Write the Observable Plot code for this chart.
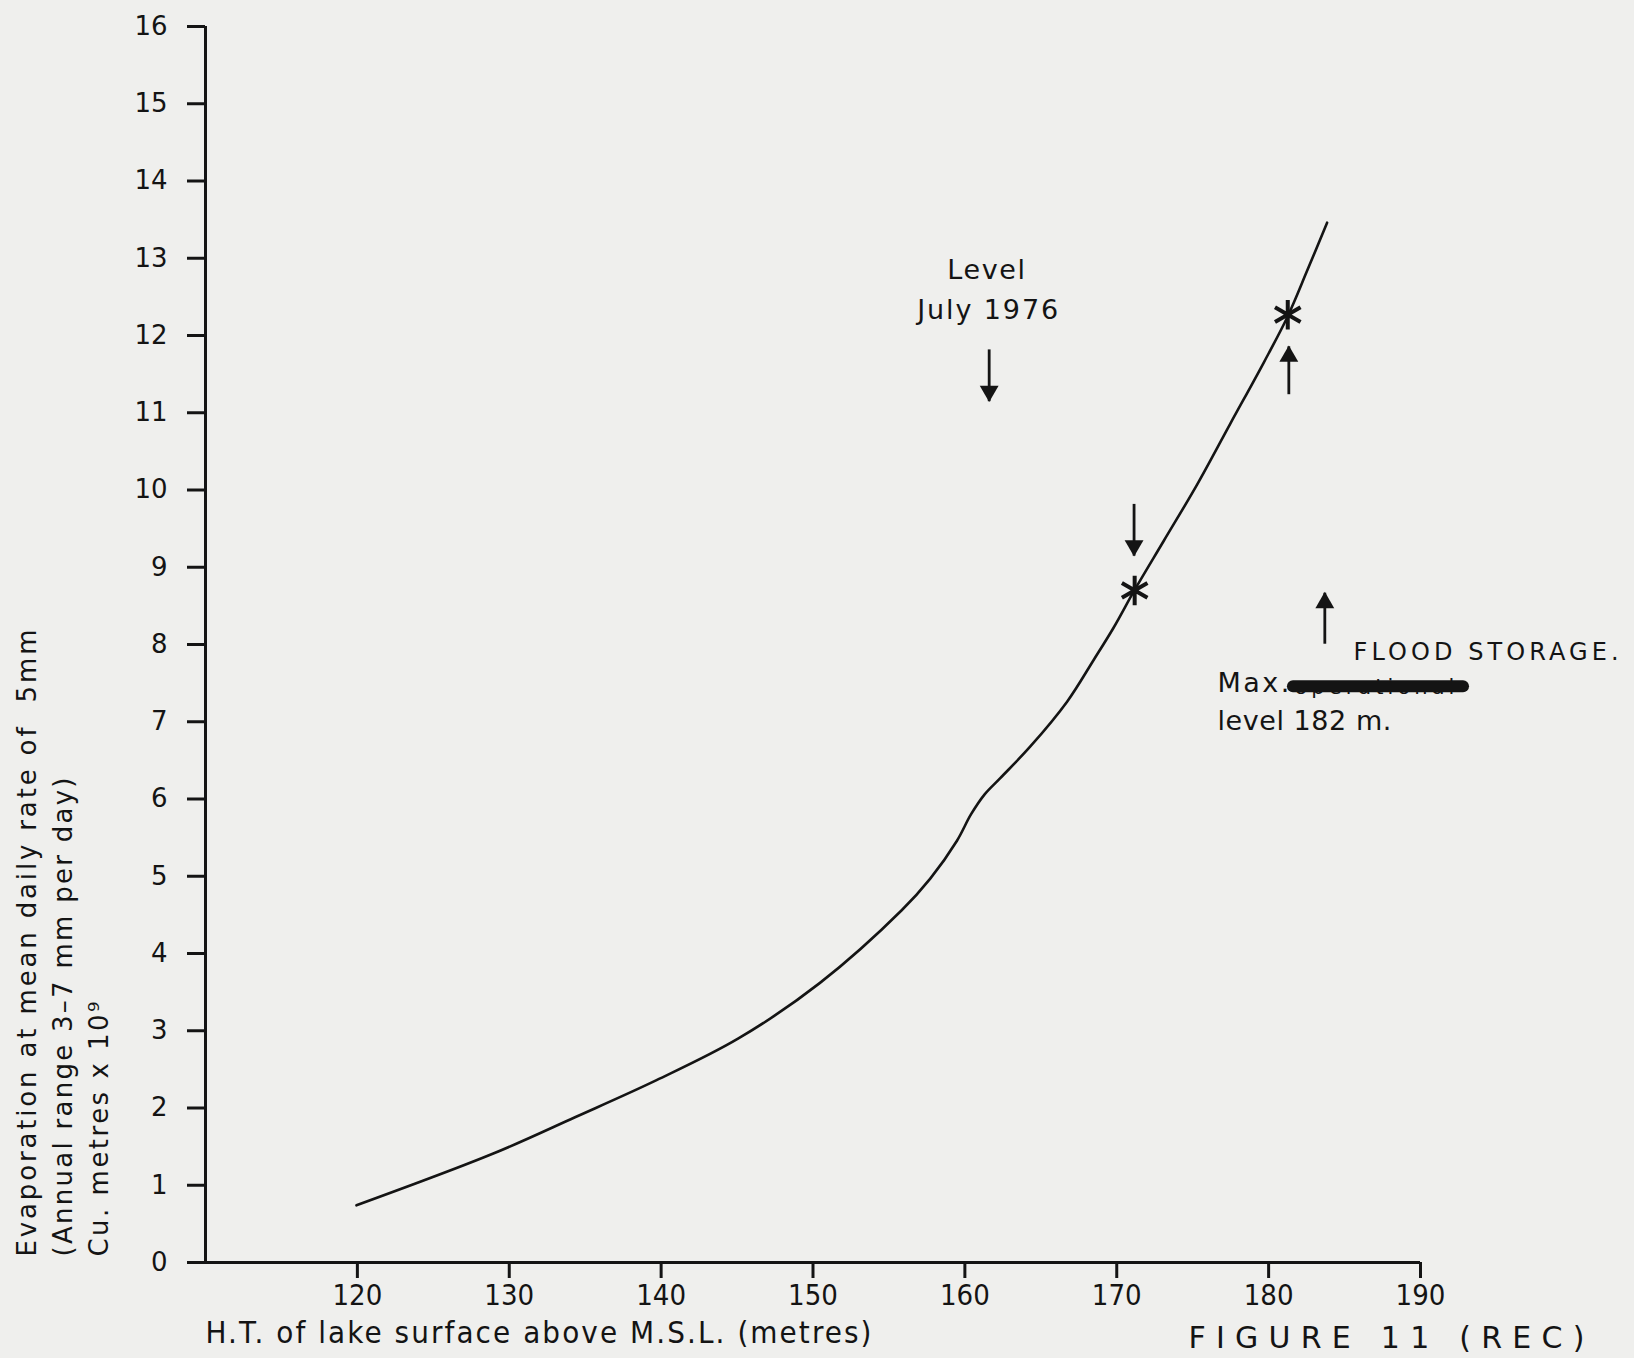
<!DOCTYPE html>
<html><head><meta charset="utf-8">
<script src="https://cdn.jsdelivr.net/npm/d3@7"></script>
<script src="https://cdn.jsdelivr.net/npm/@observablehq/plot@0.6"></script>
<style>
html,body{margin:0;padding:0;background:#efefed;}
#chart svg{display:block;}
g[aria-label="y-axis tick label"] text{font-family:'DejaVu Sans',sans-serif;font-size:26px;}
g[aria-label="x-axis tick label"] text{font-family:'Liberation Sans Narrow','DejaVu Sans Condensed',sans-serif;font-size:29px;}
</style></head><body><div id="chart"></div>
<script>
// Curve: height of lake surface (m) vs evaporation (cu. metres x 10^9)
const levelM = [119.94, 128.95, 134.33, 139.70, 145.09, 150.46, 155.84, 157.72, 159.48, 160.4, 161.3, 162.33, 164.31, 166.73, 168.48, 169.80, 171.16, 173.09, 175.29, 177.48, 179.68, 181.26, 182.54, 183.85];
const evap   = [0.74, 1.41, 1.88, 2.36, 2.90, 3.62, 4.56, 4.97, 5.46, 5.80, 6.06, 6.27, 6.68, 7.26, 7.80, 8.22, 8.70, 9.34, 10.07, 10.86, 11.65, 12.25, 12.84, 13.46];

// Asterisk markers
const starX = [171.18, 181.26];
const starY = [8.70, 12.27];

// Arrows (tail -> head)
const arrowX     = [161.60, 171.14, 181.33, 183.70];
const arrowTailY = [11.82, 9.82, 11.24, 8.01];
const arrowHeadY = [11.15, 9.15, 11.86, 8.67];

// Axis ticks
const xTicks = [120, 130, 140, 150, 160, 170, 180, 190];
const yTicks = [0,1,2,3,4,5,6,7,8,9,10,11,12,13,14,15,16];
const xAxisStart = 108.9;

// Typed annotations
const noteText = ["Level", "July 1976", "Max.", "level 182 m."];
const noteX    = [161.4, 161.5, 176.63, 176.63];
const noteY    = [12.84, 12.33, 7.50, 7.00];
const noteAnchor = ["middle", "middle", "start", "start"];

// Struck-out word and its scribble
const struckText = ["operational"];
const struckX = [181.7];
const struckY = [7.44];
const strikeX = [181.6, 192.8];
const strikeY = [7.46, 7.46];

// Handwritten annotations
const handText = ["FLOOD STORAGE.", "FIGURE 11 (REC)"];
const handX = [185.59, 174.72];
const handY = [7.90, -0.98];
const handSize = [24, 30];

// Axis titles
const yTitle = ["Evaporation at mean daily rate of  5mm", "(Annual range 3–7 mm per day)", "Cu. metres x 10⁹"];
const xTitle = "H.T. of lake surface above M.S.L. (metres)";

const curve = levelM.map((x, i) => ({x, y: evap[i]}));
const stars = starX.map((x, i) => ({x, y: starY[i]}));
const arrows = arrowX.map((x, i) => ({x, y1: arrowTailY[i], y2: arrowHeadY[i], down: arrowHeadY[i] < arrowTailY[i]}));
const notes = noteText.map((t, i) => ({t, x: noteX[i], y: noteY[i], a: noteAnchor[i]}));
const struck = struckText.map((t, i) => ({t, x: struckX[i], y: struckY[i]}));
const strike = strikeX.map((x, i) => ({x, y: strikeY[i]}));
const hand = handText.map((t, i) => ({t, x: handX[i], y: handY[i], s: handSize[i]}));
const ink = "#141414";
const sans = "'DejaVu Sans', sans-serif";

const plot = Plot.plot({
  width: 1634, height: 1358,
  marginLeft: 205, marginRight: 214, marginTop: 26, marginBottom: 96,
  x: {domain: [110, 190]},
  y: {domain: [0, 16]},
  style: {background: "#efefed", color: ink, fontFamily: sans, overflow: "visible"},
  marks: [
    Plot.axisY({ticks: yTicks, tickSize: 18, tickPadding: 20, strokeWidth: 3, tickFormat: d => String(d), label: null}),
    Plot.axisX({ticks: xTicks, tickSize: 16, tickPadding: 6, strokeWidth: 3, tickFormat: d => String(d), label: null}),
    Plot.ruleX([{x: 110, y1: 0, y2: 16}], {x: "x", y1: "y1", y2: "y2", stroke: ink, strokeWidth: 3}),
    Plot.ruleY([{y: 0, x1: xAxisStart, x2: 190}], {y: "y", x1: "x1", x2: "x2", stroke: ink, strokeWidth: 3, clip: false}),
    Plot.line(curve, {x: "x", y: "y", stroke: ink, strokeWidth: 2.6, curve: "catmull-rom"}),
    Plot.dot(stars, {x: "x", y: "y", symbol: "asterisk", r: 14, stroke: ink, strokeWidth: 4}),
    Plot.link(arrows, {x1: "x", x2: "x", y1: "y1", y2: "y2", stroke: ink, strokeWidth: 2.8}),
    Plot.dot(arrows.filter(d => d.down), {x: "x", y: "y2", symbol: "triangle", r: 7, rotate: 180, fill: ink, stroke: "none", dy: -10}),
    Plot.dot(arrows.filter(d => !d.down), {x: "x", y: "y2", symbol: "triangle", r: 7, fill: ink, stroke: "none", dy: 10}),
    Plot.text(notes, {x: "x", y: "y", text: "t", textAnchor: "start", filter: d => d.a === "start", fontSize: 27, fill: ink}),
    Plot.text(notes, {x: "x", y: "y", text: "t", textAnchor: "middle", filter: d => d.a === "middle", fontSize: 27, fill: ink}),
    Plot.text(struck, {x: "x", y: "y", text: "t", textAnchor: "start", fontSize: 21, fill: ink, clip: false}),
    Plot.line(strike, {x: "x", y: "y", stroke: ink, strokeWidth: 12, clip: false}),
    Plot.text(hand, {x: "x", y: "y", text: "t", textAnchor: "start", fontSize: "s", fontFamily: "'DejaVu Sans', sans-serif", fill: ink, clip: false}),
    Plot.text([yTitle[0]], {frameAnchor: "bottom-left", rotate: -90, textAnchor: "start", dx: -170, dy: -6, fontSize: 26, fill: ink}),
    Plot.text([yTitle[1]], {frameAnchor: "bottom-left", rotate: -90, textAnchor: "start", dx: -134, dy: -6, fontSize: 26, fill: ink}),
    Plot.text([yTitle[2]], {frameAnchor: "bottom-left", rotate: -90, textAnchor: "start", dx: -98, dy: -6, fontSize: 26, fill: ink}),
    Plot.text([xTitle], {frameAnchor: "bottom-left", textAnchor: "start", dx: 0, dy: 80, fontSize: 31, fontFamily: "'Liberation Sans Narrow','DejaVu Sans Condensed',sans-serif", fill: ink})
  ]
});
document.getElementById("chart").appendChild(plot);

// stretch typewritten strings to the lengths seen in the reference
const lengths = new Map([[yTitle[0], 627], [yTitle[1], 479], [yTitle[2], 255], [xTitle, 666],
  ["July 1976", 141], ["Level", 78], ["Max.", 72], ["level 182 m.", 174], ["operational", 160],
  ["FLOOD STORAGE.", 265], ["FIGURE 11 (REC)", 396]]);
d3.select(plot).selectAll("text").each(function() {
  const len = lengths.get(this.textContent);
  if (len) d3.select(this).attr("textLength", len).attr("lengthAdjust", "spacing");
});
</script></body></html>
